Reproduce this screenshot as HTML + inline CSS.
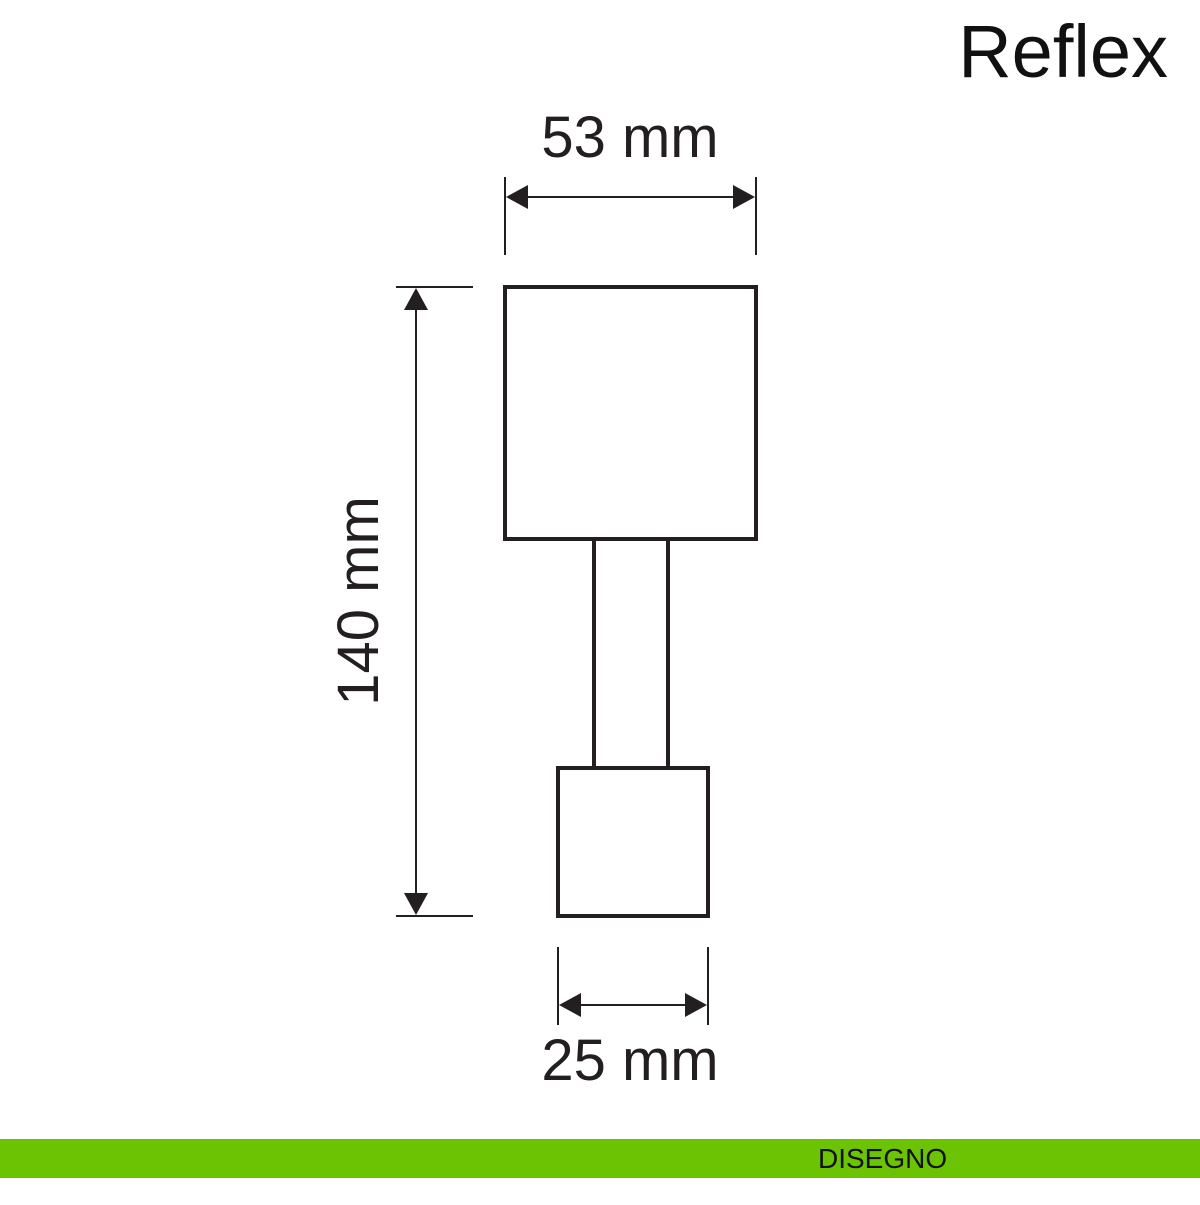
<!DOCTYPE html>
<html><head><style>html,body{margin:0;padding:0;background:#fff}</style></head><body>
<svg width="1200" height="1200" viewBox="0 0 1200 1200" xmlns="http://www.w3.org/2000/svg">
<rect width="1200" height="1200" fill="#fff"/>
<g fill="none" stroke="#231f20">
<rect x="505" y="287" width="251" height="252" stroke-width="4"/>
<rect x="594" y="539" width="74" height="229" stroke-width="4"/>
<rect x="558" y="768" width="150" height="148" stroke-width="4"/>
<g stroke-width="2">
<line x1="505" y1="177" x2="505" y2="255"/><line x1="756" y1="177" x2="756" y2="255"/>
<line x1="520" y1="197" x2="740" y2="197"/>
<line x1="396" y1="287" x2="473" y2="287"/><line x1="396" y1="916" x2="473" y2="916"/>
<line x1="416" y1="300" x2="416" y2="900"/>
<line x1="558" y1="947" x2="558" y2="1025"/><line x1="708" y1="947" x2="708" y2="1025"/>
<line x1="572" y1="1005" x2="694" y2="1005"/>
</g></g>
<g fill="#231f20">
<polygon points="506,197 528,185 528,209"/><polygon points="755,197 733,185 733,209"/>
<polygon points="416,288 404,310 428,310"/><polygon points="416,915 404,893 428,893"/>
<polygon points="559,1005 581,993 581,1017"/><polygon points="707,1005 685,993 685,1017"/>
</g>
<g font-family="Liberation Sans, sans-serif" fill="#231f20" font-size="58" text-anchor="middle">
<text x="630" y="157">53 mm</text>
<text x="630" y="1080">25 mm</text>
<text transform="translate(378,601) rotate(-90)">140 mm</text>
</g>
<text x="1168" y="77" text-anchor="end" font-family="Liberation Sans, sans-serif" font-size="74" fill="#111">Reflex</text>
<rect x="0" y="1139" width="1200" height="39" fill="#6cc304"/>
<text x="818" y="1168" font-family="Liberation Sans, sans-serif" font-size="28" fill="#111">DISEGNO</text>
</svg>
</body></html>
